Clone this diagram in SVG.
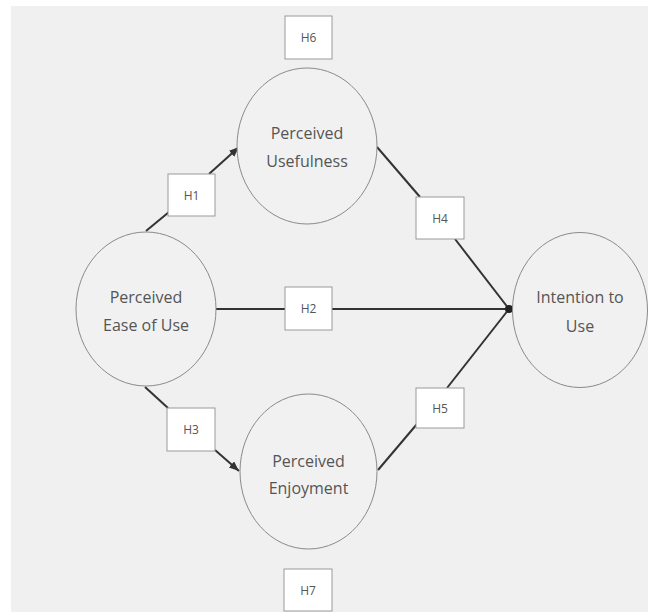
<svg xmlns="http://www.w3.org/2000/svg" width="648" height="612" viewBox="0 0 648 612">
<defs>
<style>
.node ellipse{fill:#f1f1f1;stroke:#8a8a8a;stroke-width:1}
.lbl{font-family:"Open Sans","Liberation Sans",sans-serif;font-size:16px;fill:#555;text-anchor:middle}
.hbox rect{fill:#fff;stroke:#9a9a9a;stroke-width:1}
.hbox text{font-family:"Open Sans","Liberation Sans",sans-serif;font-size:12px;fill:#555;text-anchor:middle}
.conn line{stroke:#333;stroke-width:2;fill:none}
</style>
<marker id="arr" markerUnits="userSpaceOnUse" markerWidth="12" markerHeight="10" refX="10" refY="4" orient="auto">
<path d="M0,0 L10,4 L0,8 z" fill="#333"/>
</marker>
</defs>
<rect x="0" y="0" width="648" height="612" fill="#fff"/>
<rect x="11" y="6" width="637" height="606" fill="#f0f0f0"/>

<g id="connectors" class="conn">
<line x1="146" y1="231" x2="169" y2="212"/>
<line x1="209" y1="174" x2="239" y2="147" marker-end="url(#arr)"/>
<line x1="145" y1="387" x2="168" y2="408"/>
<line x1="215" y1="450" x2="239" y2="471" marker-end="url(#arr)"/>
<line x1="216" y1="309" x2="285" y2="309"/>
<line x1="332" y1="309" x2="509" y2="309"/>
<line x1="377" y1="147" x2="420" y2="197"/>
<line x1="455" y1="239" x2="509" y2="309"/>
<line x1="509" y1="309" x2="447" y2="388"/>
<line x1="417" y1="424" x2="378" y2="470"/>
<circle cx="509" cy="309" r="4" fill="#222"/>
</g>

<g id="perceived-usefulness" class="node">
<ellipse cx="307" cy="146" rx="70" ry="78"/>
<text class="lbl" x="307" y="139">Perceived</text>
<text class="lbl" x="307" y="167">Usefulness</text>
</g>
<g id="perceived-ease-of-use" class="node">
<ellipse cx="146" cy="309" rx="70" ry="77"/>
<text class="lbl" x="146" y="303">Perceived</text>
<text class="lbl" x="146" y="331">Ease of Use</text>
</g>
<g id="perceived-enjoyment" class="node">
<ellipse cx="308.5" cy="471.5" rx="68.5" ry="77.5"/>
<text class="lbl" x="308.5" y="467">Perceived</text>
<text class="lbl" x="308.5" y="494">Enjoyment</text>
</g>
<g id="intention-to-use" class="node">
<ellipse cx="580" cy="310" rx="67.5" ry="77.5"/>
<text class="lbl" x="580" y="303">Intention to</text>
<text class="lbl" x="580" y="332">Use</text>
</g>

<g id="h6" class="hbox"><rect x="285" y="16" width="47" height="43"/><text x="308.5" y="42">H6</text></g>
<g id="h1" class="hbox"><rect x="168" y="174" width="47" height="42"/><text x="191.5" y="200">H1</text></g>
<g id="h2" class="hbox"><rect x="285" y="287" width="47" height="43"/><text x="308.5" y="313">H2</text></g>
<g id="h3" class="hbox"><rect x="167" y="408" width="48" height="43"/><text x="191" y="434">H3</text></g>
<g id="h4" class="hbox"><rect x="416" y="197" width="48" height="42"/><text x="440" y="223">H4</text></g>
<g id="h5" class="hbox"><rect x="416" y="388" width="48" height="40"/><text x="440" y="413">H5</text></g>
<g id="h7" class="hbox"><rect x="284" y="569" width="48" height="42"/><text x="308" y="595">H7</text></g>
</svg>
